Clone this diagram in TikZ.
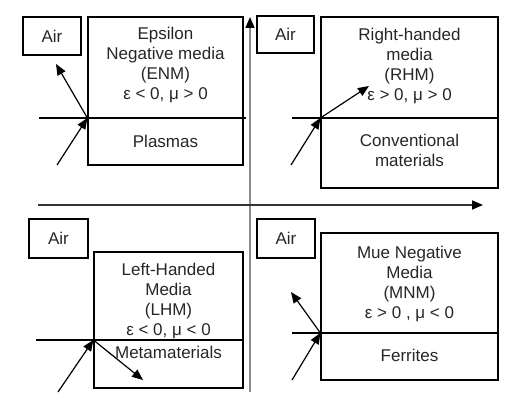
\documentclass[tikz,border=0pt]{standalone}
\usepackage{fontspec}
\setmainfont{Liberation Sans}
\usetikzlibrary{arrows.meta,positioning}

\begin{document}
\begin{tikzpicture}[
  x=1pt, y=-1pt,
  every node/.style={font=\fontsize{17}{20}\selectfont, text=black!85},
  airbox/.style={draw, line width=1.2pt, minimum width=58pt, minimum height=38pt, inner sep=0pt},
  medium/.style={draw, line width=1.2pt, inner sep=0pt},
  mtext/.style={align=center, inner sep=0pt},
  iface/.style={line width=1.2pt},
  ray/.style={line width=1.2pt, -{Triangle[length=11pt,width=9pt]}},
  axis/.style={line width=1.6pt, -{Triangle[length=11pt,width=9pt,black]}}
]
\useasboundingbox (0,0) rectangle (508,404);

% axes
\coordinate (vbot) at (250,392);
\coordinate (vtop) at (250,17);
\coordinate (hleft) at (38,205);
\coordinate (hright) at (483,205);
\draw[axis, draw=black!45] (vbot) -- (vtop);
\draw[axis, draw=black!80] (hleft) -- (hright);

% air boxes
\node[airbox] (airE) at (52,36) {Air};
\node[airbox, minimum width=57pt, minimum height=37pt] (airR) at (285.5,34.5) {Air};
\node[airbox, minimum width=59pt, minimum height=39pt] (airL) at (58.5,238.5) {Air};
\node[airbox, minimum height=39pt] (airM) at (286,238.5) {Air};

% media boxes
\node[medium, minimum width=155pt, minimum height=148pt] (enm) at (165.5,91) {};
\node[medium, minimum width=177pt, minimum height=171pt] (rhm) at (409.5,102.5) {};
\node[medium, minimum width=149pt, minimum height=136pt] (lhm) at (168.5,320) {};
\node[medium, minimum width=177pt, minimum height=147pt] (mnm) at (409.5,306.5) {};

% texts
\node[mtext] (enmT) at (165.5,65) {Epsilon\\Negative media\\(ENM)\\ε < 0, μ > 0};
\node[mtext] (enmM) at (165.5,141) {Plasmas};
\node[mtext] (rhmT) at (409.5,66) {Right-handed\\media\\(RHM)\\ε > 0, μ > 0};
\node[mtext] (rhmM) at (409.5,150) {Conventional\\materials};
\node[mtext] (lhmT) at (168.5,301) {Left-Handed\\Media\\(LHM)\\ε < 0, μ < 0};
\node[mtext] (lhmM) at (168.5,352) {Metamaterials};
\node[mtext] (mnmT) at (409.5,284) {Mue Negative\\Media\\(MNM)\\ε > 0 , μ < 0};
\node[mtext] (mnmM) at (409.5,355) {Ferrites};

% interfaces
\coordinate (ifE) at (39,118);
\coordinate (ifEr) at (246,118);
\coordinate (ifR) at (292,118);
\coordinate (ifL) at (36,340);
\coordinate (ifM) at (292,333);
\draw[iface] (ifE) -- (ifEr);
\draw[iface] (ifR) -- (ifR -| rhm.east);
\draw[iface] (ifL) -- (ifL -| lhm.east);
\draw[iface] (ifM) -- (ifM -| mnm.east);

% contact points
\coordinate (hitE) at (ifE -| enm.west);
\coordinate (hitR) at (ifR -| rhm.west);
\coordinate (hitL) at (ifL -| lhm.west);
\coordinate (hitM) at (ifM -| mnm.west);

% rays
\coordinate (inE) at (57,165);
\coordinate (outE) at (56,64);
\coordinate (inR) at (291,165);
\coordinate (outR) at (369,86);
\coordinate (inL) at (58,392);
\coordinate (outL) at (143,380);
\coordinate (inM) at (292,380);
\coordinate (outM) at (291,292);
\draw[ray] (inE) -- (hitE);
\draw[ray] (hitE) -- (outE);
\draw[ray] (inR) -- (hitR);
\draw[ray] (hitR) -- (outR);
\draw[ray] (inL) -- (hitL);
\draw[ray] (hitL) -- (outL);
\draw[ray] (inM) -- (hitM);
\draw[ray] (hitM) -- (outM);
\end{tikzpicture}
\end{document}
